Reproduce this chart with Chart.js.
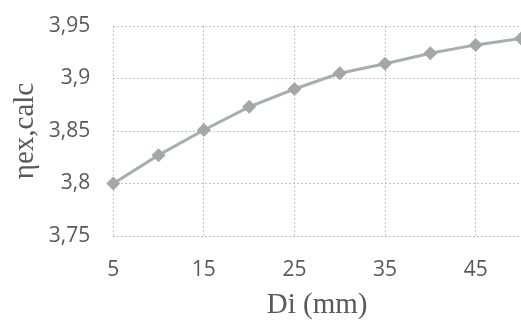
<!DOCTYPE html>
<html>
<head>
<meta charset="utf-8">
<script src="https://cdn.jsdelivr.net/npm/chart.js@4"></script>
<style>
  html, body { margin: 0; padding: 0; background: #fff; overflow: hidden; }
  #wrap { width: 521px; height: 320px; }
</style>
</head>
<body>
<div id="wrap"><canvas id="grafico"></canvas></div>
<script>
const diametros = [5, 10, 15, 20, 25, 30, 35, 40, 45, 50];
const etaCalc = [3.800, 3.827, 3.851, 3.873, 3.890, 3.905, 3.914, 3.924, 3.932, 3.938];
const ticksX = [5, 15, 25, 35, 45];
const ticksY = [3.75, 3.8, 3.85, 3.9, 3.95];

const gris = '#595959';
const rejilla = {
    color: '#c4c4c4',
    lineWidth: 1,
    drawTicks: false
};

new Chart(document.getElementById('grafico').getContext('2d'), {
    type: 'line',
    data: {
        datasets: [{
            label: 'ηex,calc',
            data: diametros.map((d, i) => ({ x: d, y: etaCalc[i] })),
            borderColor: '#a9aeac',
            borderWidth: 3,
            backgroundColor: '#a3a8a6',
            pointStyle: 'rectRot',
            pointRadius: 7,
            pointBorderWidth: 0,
            tension: 0,
            clip: false
        }]
    },
    options: {
        responsive: true,
        maintainAspectRatio: false,
        animation: false,
        layout: { autoPadding: false, padding: { left: 10, top: 26, right: 0, bottom: 0 } },
        plugins: {
            legend: { display: false },
            tooltip: { enabled: false }
        },
        scales: {
            x: {
                type: 'linear',
                min: 5,
                max: 50,
                afterBuildTicks: axis => { axis.ticks = ticksX.map(v => ({ value: v })); },
                afterFit: axis => { axis.paddingLeft = 0; axis.paddingRight = 0; },
                grid: rejilla,
                border: { display: false, dash: [2, 2] },
                ticks: {
                    color: gris,
                    font: { family: 'Open Sans', size: 21 },
                    padding: 21,
                    maxRotation: 0
                },
                title: {
                    display: true,
                    text: 'Di (mm)',
                    color: gris,
                    font: { family: 'Liberation Serif', size: 29 },
                    // el eje cuenta el padding de las marcas dos veces
                    padding: { top: -15, bottom: -3 }
                }
            },
            y: {
                type: 'linear',
                min: 3.75,
                max: 3.95,
                afterBuildTicks: axis => { axis.ticks = ticksY.map(v => ({ value: v })); },
                afterFit: axis => { axis.paddingTop = 0; axis.paddingBottom = 0; },
                grid: rejilla,
                border: { display: false, dash: [2, 2] },
                ticks: {
                    color: gris,
                    font: { family: 'Open Sans', size: 21 },
                    padding: 23,
                    callback: v => String(+v.toFixed(2)).replace('.', ',')
                },
                title: {
                    display: true,
                    text: 'ηex,calc',
                    color: gris,
                    font: { family: 'Liberation Serif', size: 29 },
                    padding: { top: -2, bottom: -17 }
                }
            }
        }
    }
});
</script>
</body>
</html>
